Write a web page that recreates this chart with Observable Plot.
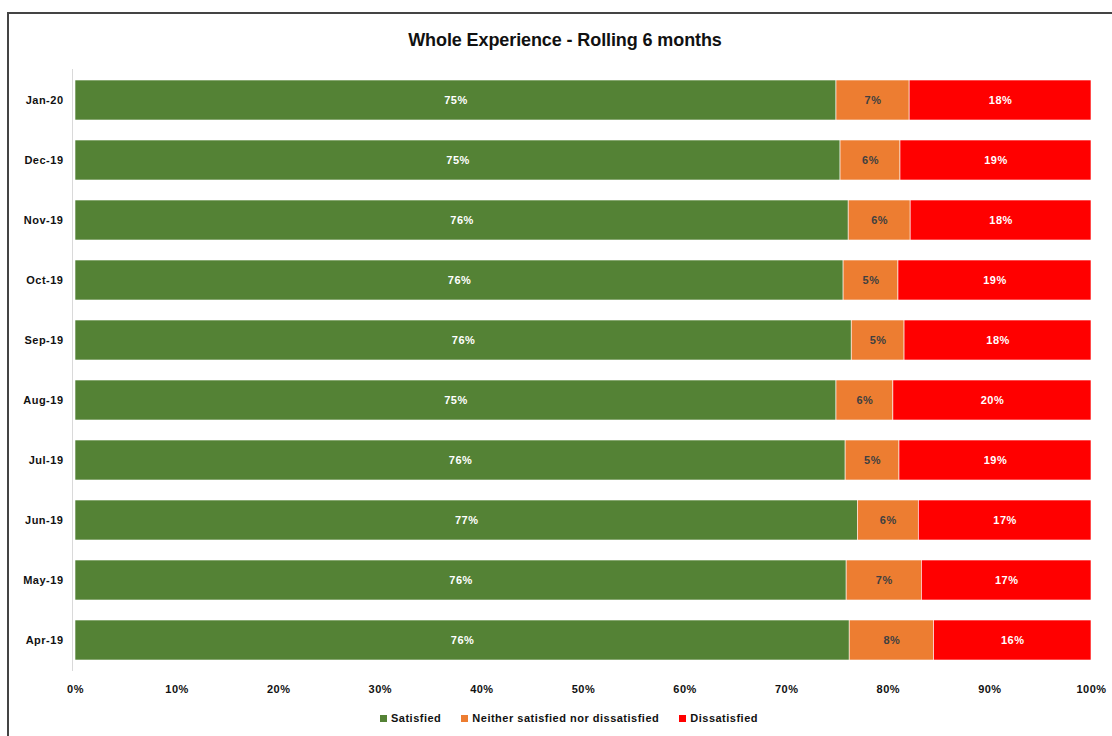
<!DOCTYPE html>
<html>
<head>
<meta charset="utf-8">
<script src="https://cdn.jsdelivr.net/npm/d3@7"></script>
<script src="https://cdn.jsdelivr.net/npm/@observablehq/plot@0.6"></script>
<style>
  html, body { margin: 0; padding: 0; background: #fff; }
  #wrap { position: relative; width: 1112px; height: 736px; overflow: hidden; font-family: "Liberation Sans", Arial, sans-serif; }
  #frame { position: absolute; left: 7px; top: 12px; width: 1200px; height: 800px; border: 2px solid #444; box-sizing: border-box; }
  #title { position: absolute; top: 0; left: 0; width: 1112px; height: 60px; line-height: 80px; text-align: center; font-size: 18px; font-weight: bold; color: #111; padding-left: 18px; box-sizing: border-box; letter-spacing: -0.1px; }
  #chart { position: absolute; top: 60px; left: 0; }
  #legend { position: absolute; top: 712px; left: 0; width: 1112px; display: flex; justify-content: center; padding-left: 26px; box-sizing: border-box; font-size: 11px; font-weight: bold; color: #111; letter-spacing: 0.5px; }
  .item { display: flex; align-items: center; margin: 0 10px; }
  .sw { width: 7px; height: 7px; margin-right: 4px; }
  #chart svg text { letter-spacing: 0.5px; }
</style>
</head>
<body>
<div id="wrap">
  <div id="frame"></div>
  <div id="title">Whole Experience - Rolling 6 months</div>
  <div id="chart"></div>
  <div id="legend"></div>
</div>
<script>
const months = ["Jan-20","Dec-19","Nov-19","Oct-19","Sep-19","Aug-19","Jul-19","Jun-19","May-19","Apr-19"];
const seriesNames = ["Satisfied","Neither satisfied nor dissatisfied","Dissatisfied"];
const satisfied    = [74.9, 75.3, 76.1, 75.6, 76.4, 74.9, 75.8, 77.0, 75.9, 76.2];
const neither      = [7.2, 5.9, 6.1, 5.4, 5.2, 5.6, 5.3, 6.0, 7.4, 8.3];
const dissatisfied = [17.9, 18.8, 17.8, 19.0, 18.4, 19.5, 18.9, 17.0, 16.7, 15.5];
const seriesColors = ["#548235", "#ED7D31", "#FF0000"];
const labelColors = ["#ffffff", "#404040", "#ffffff"];
const xTicks = [0, 0.1, 0.2, 0.3, 0.4, 0.5, 0.6, 0.7, 0.8, 0.9, 1];

const values = [satisfied, neither, dissatisfied];
const data = [];
seriesNames.forEach((s, si) => {
  months.forEach((m, mi) => {
    data.push({month: m, series: s, si, value: values[si][mi] / 100});
  });
});

const font = "Liberation Sans, Arial, sans-serif";
const textMarks = seriesNames.map((s, si) =>
  Plot.text(data, Plot.stackX({
    x: "value", y: "month", z: "series", order: seriesNames,
    text: d => d.si === si ? Math.round(d.value * 100) + "%" : null,
    fill: labelColors[si], fontSize: 11, fontWeight: "bold"
  }))
);

const chart = Plot.plot({
  width: 1112,
  height: 645,
  marginTop: 9,
  marginBottom: 34,
  marginLeft: 75,
  marginRight: 21,
  style: {fontFamily: font, fontSize: "11px", fontWeight: "bold", color: "#111", background: "transparent"},
  x: {domain: [0, 1], ticks: xTicks, tickFormat: d3.format(".0%"), tickSize: 0, tickPadding: 14, label: null},
  y: {domain: months, paddingInner: 0.34, paddingOuter: 0.17, tickSize: 0, tickPadding: 12, label: null},
  color: {domain: seriesNames, range: seriesColors},
  marks: [
    Plot.barX(data, Plot.stackX({
      x: "value", y: "month", fill: "series", order: seriesNames,
      stroke: "white", strokeWidth: 0.6
    })),
    Plot.ruleX([0], {stroke: "#d9d9d9", dx: -3}),
    ...textMarks
  ]
});
document.getElementById("chart").appendChild(chart);

const legend = document.getElementById("legend");
seriesNames.forEach((s, i) => {
  const it = document.createElement("div");
  it.className = "item";
  const sw = document.createElement("span");
  sw.className = "sw";
  sw.style.background = seriesColors[i];
  const t = document.createElement("span");
  t.textContent = s;
  it.appendChild(sw); it.appendChild(t);
  legend.appendChild(it);
});
</script>
</body>
</html>
